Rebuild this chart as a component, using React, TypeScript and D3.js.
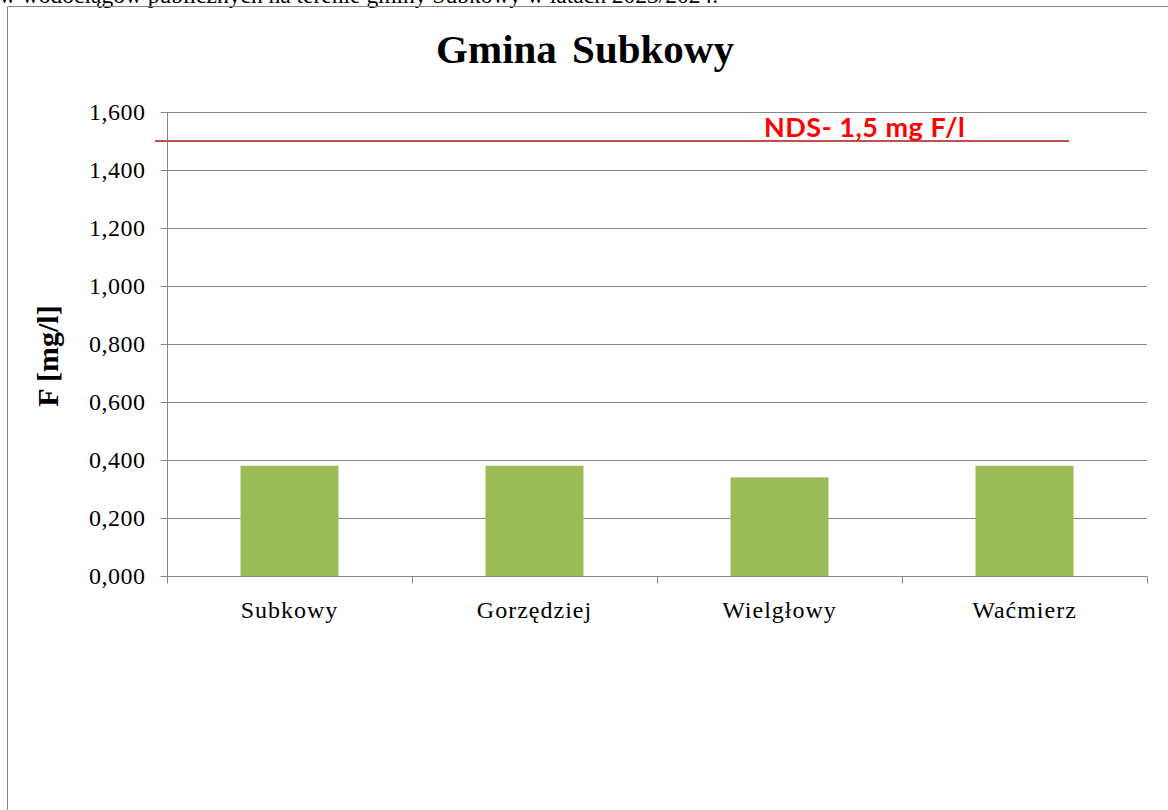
import { useEffect, useRef } from "react";
import * as d3 from "d3";

const categories = ["Subkowy", "Gorzędziej", "Wielgłowy", "Waćmierz"];
const values = [0.38, 0.38, 0.34, 0.38];
const yTicks = [0, 0.2, 0.4, 0.6, 0.8, 1.0, 1.2, 1.4, 1.6];
const ndsLimit = 1.5;
const ndsLabel = "NDS- 1,5 mg F/l";
const title = "Gmina Subkowy";
const yLabel = "F [mg/l]";
const caption = "w wodociągów publicznych na terenie gminy Subkowy w latach 2023/2024.";

const W = 1168;
const H = 810;

export default function App() {
  const svgRef = useRef<SVGSVGElement | null>(null);

  useEffect(() => {
    if (!svgRef.current) return;
    const svg = d3.select(svgRef.current);
    svg.selectAll("*").remove();

    const serif = "'Liberation Serif', 'Times New Roman', serif";
    const left = 167;
    const right = 1147;
    const top = 112;
    const bottom = 576;

    // caption line of the page above, cut at the top edge like in the source
    svg
      .append("text")
      .attr("x", -1)
      .attr("y", 3)
      .attr("font-family", serif)
      .attr("font-size", 23.5)
      .attr("fill", "#000")
      .text(caption);

    // chart frame (only left and top visible)
    svg
      .append("path")
      .attr("d", `M7.5,${H} V6.5 H${W}`)
      .attr("fill", "none")
      .attr("stroke", "#888")
      .attr("stroke-width", 1);

    const x = d3.scaleBand<string>().domain(categories).range([left, right]).paddingInner(0.6).paddingOuter(0.3);
    const xBand = d3.scaleBand<string>().domain(categories).range([left, right]);
    const y = d3.scaleLinear().domain([0, 1.6]).range([bottom, top]);

    // title
    svg
      .append("text")
      .attr("x", 585)
      .attr("y", 63)
      .attr("text-anchor", "middle")
      .attr("font-family", serif)
      .attr("font-weight", "bold")
      .attr("font-size", 41)
      .attr("word-spacing", 5)
      .text(title);

    // gridlines
    svg
      .append("g")
      .selectAll("line")
      .data(yTicks.filter((d) => d > 0))
      .join("line")
      .attr("x1", left)
      .attr("x2", right)
      .attr("y1", (d) => Math.round(y(d)) + 0.5)
      .attr("y2", (d) => Math.round(y(d)) + 0.5)
      .attr("stroke", "#868686");

    // bars
    svg
      .append("g")
      .selectAll("rect")
      .data(values)
      .join("rect")
      .attr("x", (_, i) => x(categories[i])!)
      .attr("width", x.bandwidth())
      .attr("y", (d) => y(d))
      .attr("height", (d) => y(0) - y(d))
      .attr("fill", "#9BBB59");

    // y axis
    const yAxis = svg.append("g").attr("transform", `translate(${left + 0.5},0)`);
    yAxis
      .append("line")
      .attr("y1", top)
      .attr("y2", bottom)
      .attr("stroke", "#868686");
    yAxis
      .selectAll("line.tick")
      .data(yTicks)
      .join("line")
      .attr("class", "tick")
      .attr("x1", -7)
      .attr("x2", 0)
      .attr("y1", (d) => Math.round(y(d)) + 0.5)
      .attr("y2", (d) => Math.round(y(d)) + 0.5)
      .attr("stroke", "#868686");
    yAxis
      .selectAll("text")
      .data(yTicks)
      .join("text")
      .attr("x", -22)
      .attr("y", (d) => y(d))
      .attr("dy", "0.35em")
      .attr("text-anchor", "end")
      .attr("font-family", serif)
      .attr("font-size", 24)
      .attr("letter-spacing", 0.5)
      .text((d) => d3.format(".3f")(d).replace(".", ","));

    // x axis
    const xAxis = svg.append("g").attr("transform", `translate(0,${bottom + 0.5})`);
    xAxis
      .append("line")
      .attr("x1", left)
      .attr("x2", right)
      .attr("stroke", "#868686");
    const bounds = categories.map((c) => xBand(c)!).concat([right]);
    xAxis
      .selectAll("line.tick")
      .data(bounds)
      .join("line")
      .attr("class", "tick")
      .attr("x1", (d) => Math.round(d) + 0.5)
      .attr("x2", (d) => Math.round(d) + 0.5)
      .attr("y1", 0)
      .attr("y2", 7)
      .attr("stroke", "#868686");
    xAxis
      .selectAll("text")
      .data(categories)
      .join("text")
      .attr("x", (d) => xBand(d)! + xBand.bandwidth() / 2)
      .attr("y", 41)
      .attr("text-anchor", "middle")
      .attr("font-family", serif)
      .attr("font-size", 24)
      .attr("letter-spacing", 1)
      .text((d) => d);

    // y label
    svg
      .append("text")
      .attr("transform", `translate(58,356) rotate(-90)`)
      .attr("text-anchor", "middle")
      .attr("font-family", serif)
      .attr("font-weight", "bold")
      .attr("font-size", 30)
      .text(yLabel);

    // NDS limit line
    svg
      .append("line")
      .attr("x1", 155)
      .attr("x2", 1069)
      .attr("y1", y(ndsLimit))
      .attr("y2", y(ndsLimit))
      .attr("stroke", "#C0504D")
      .attr("stroke-width", 2);

    svg
      .append("text")
      .attr("x", 764)
      .attr("y", y(ndsLimit) - 4)
      .attr("font-family", "Lato, 'Open Sans', sans-serif")
      .attr("font-weight", "bold")
      .attr("font-size", 27)
      .attr("letter-spacing", 0.5)
      .attr("fill", "#FF0000")
      .text(ndsLabel);
  }, []);

  return (
    <div style={{ position: "absolute", left: 0, top: 0 }}>
      <svg ref={svgRef} width={W} height={H} style={{ display: "block", background: "#fff" }} />
    </div>
  );
}
